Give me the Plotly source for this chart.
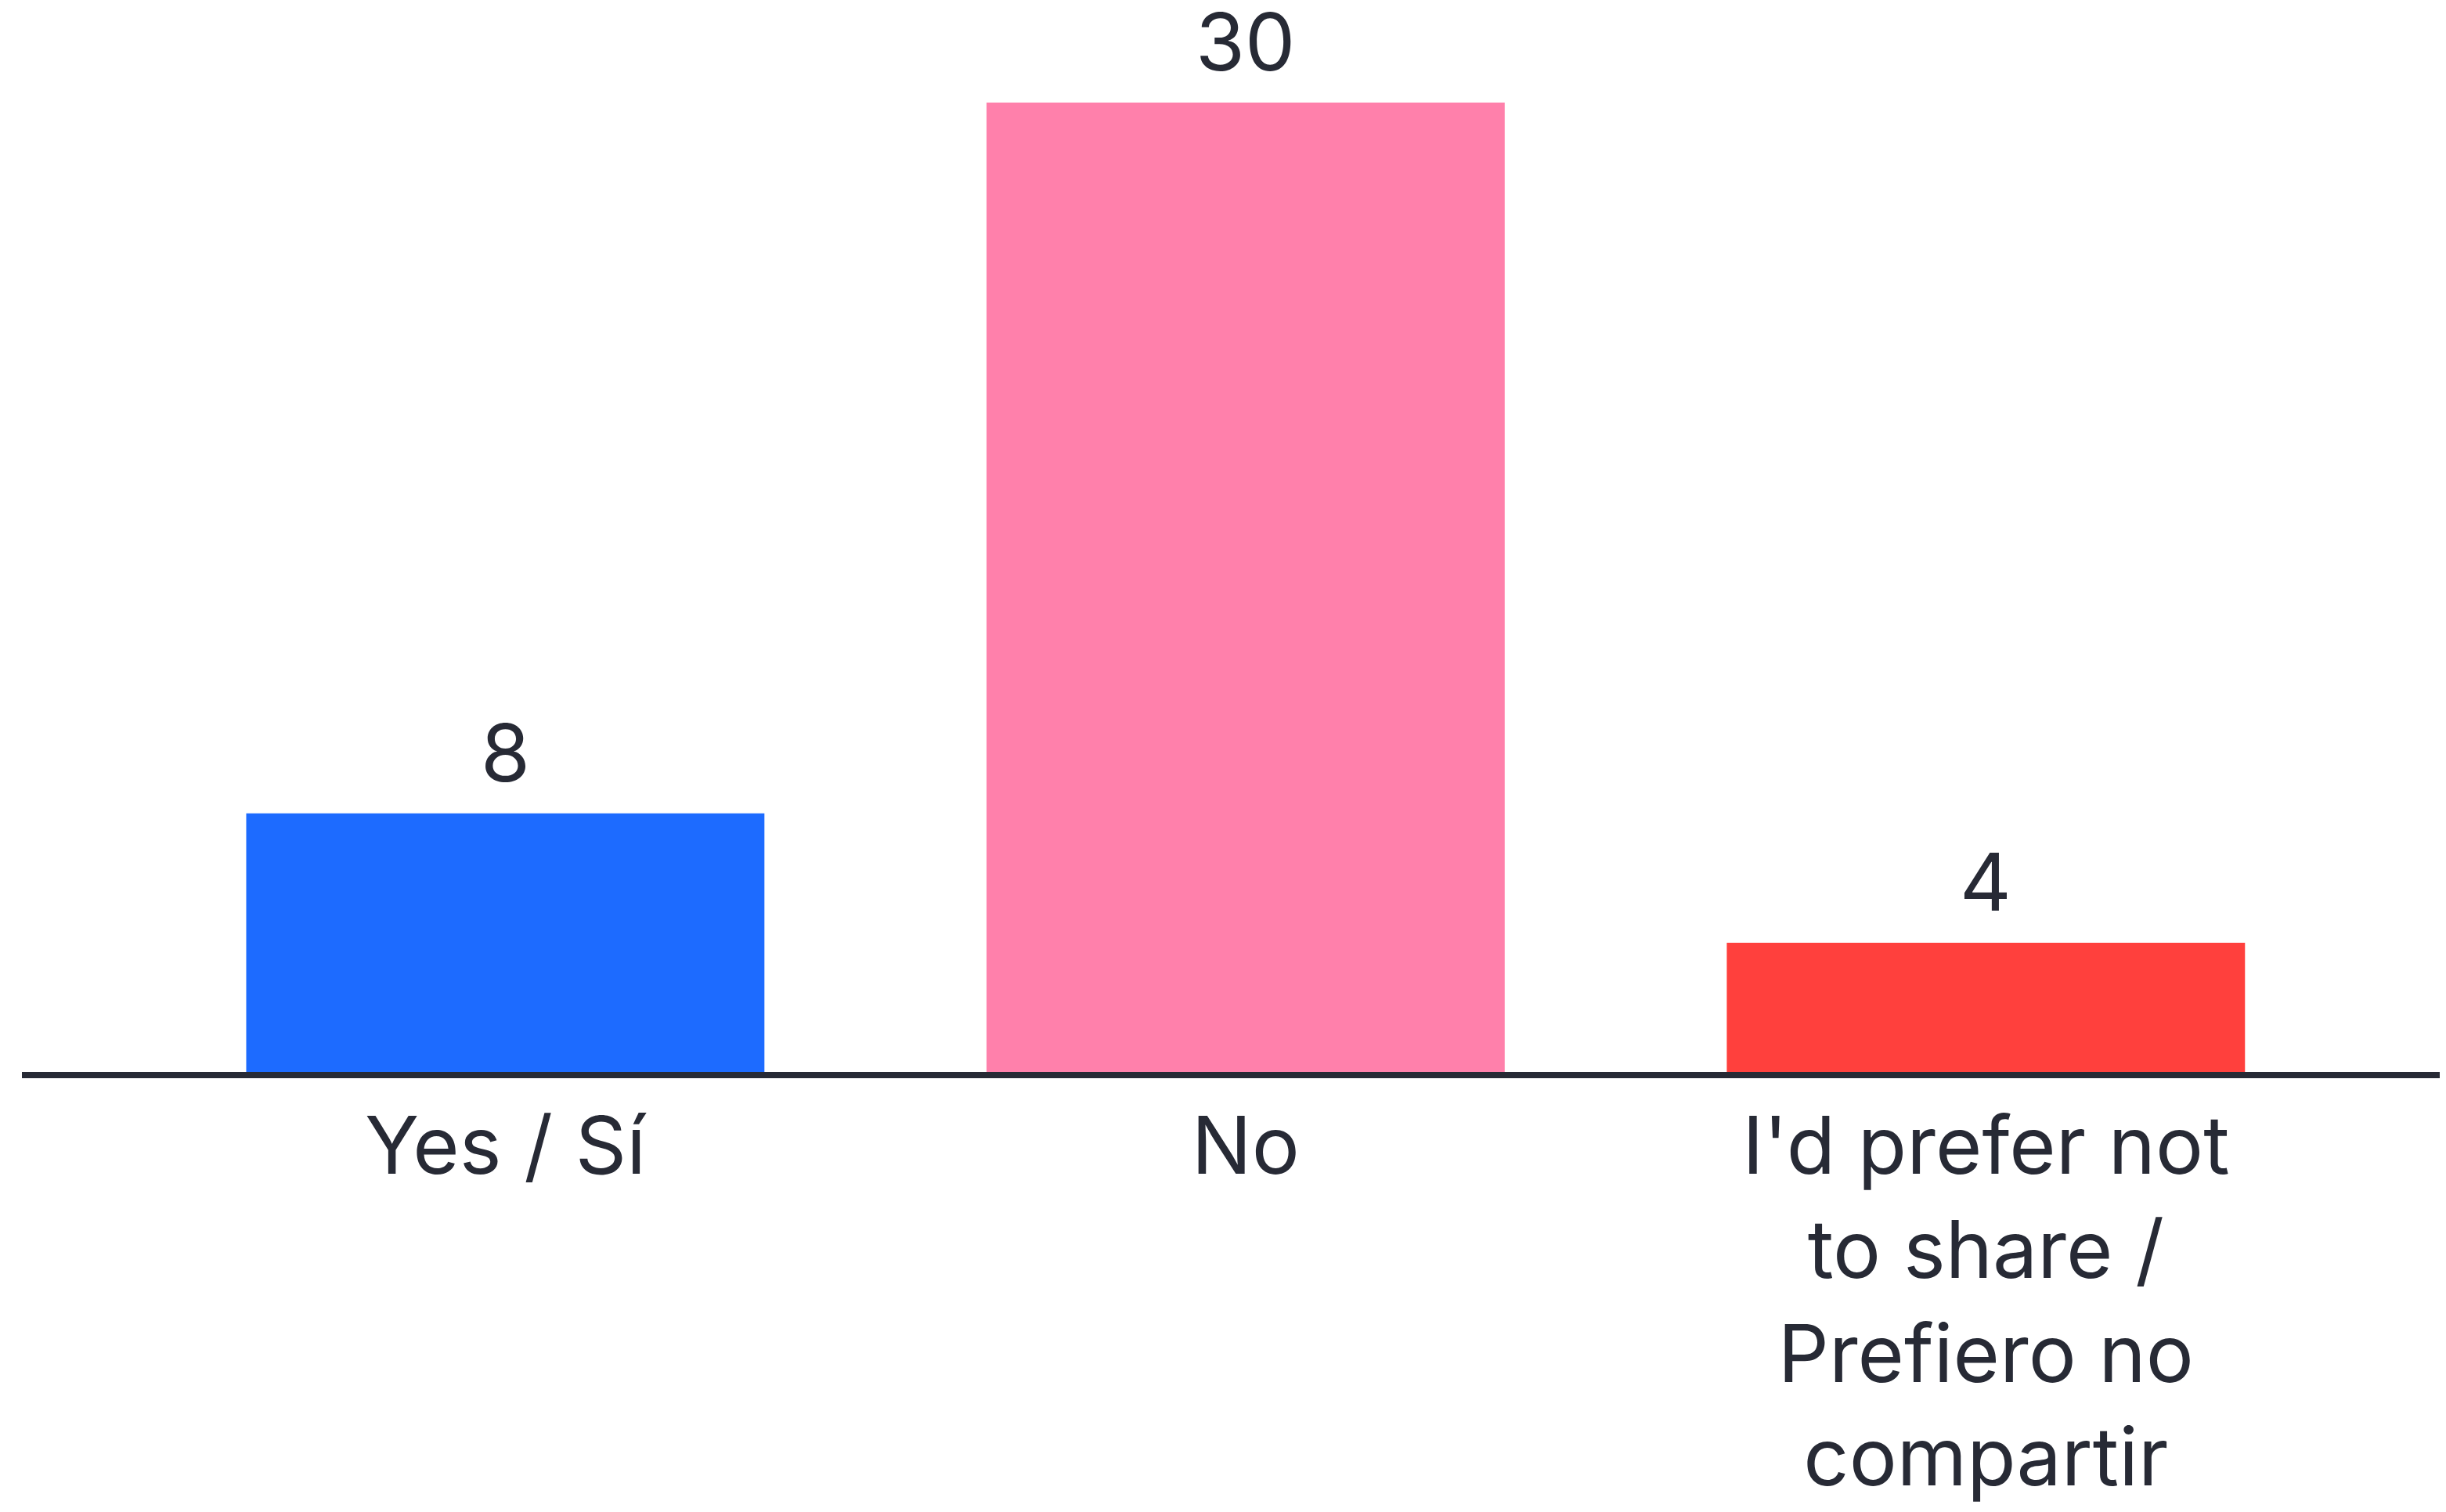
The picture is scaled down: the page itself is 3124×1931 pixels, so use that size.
import plotly.graph_objects as go

categories = ["Yes / Sí", "No", "I'd prefer not<br>to share /<br>Prefiero no<br>compartir"]
values = [8, 30, 4]
colors = ["#1D6BFF", "#FF80AB", "#FF403D"]

TEXT = "#272A35"
FONT = "Inter"
SIZE = 102

fig = go.Figure()
fig.add_trace(go.Bar(
    x=categories,
    y=values,
    marker=dict(color=colors, line=dict(width=0)),
    width=0.70,
    hoverinfo="x+y",
))

for c, v in zip(categories, values):
    fig.add_annotation(
        x=c, y=v, text=str(v), showarrow=False,
        xanchor="center", yanchor="bottom", yshift=14,
        font=dict(family=FONT, size=SIZE, color=TEXT),
    )

fig.update_layout(
    width=3124,
    height=1931,
    margin=dict(l=20, r=0, t=0, b=570),
    paper_bgcolor="white",
    plot_bgcolor="white",
    showlegend=False,
    font=dict(family=FONT, size=SIZE, color=TEXT),
    xaxis=dict(
        range=[-0.653, 2.63],
        showline=True,
        linecolor=TEXT,
        linewidth=8,
        showgrid=False,
        ticks="",
        tickfont=dict(family=FONT, size=SIZE, color=TEXT),
        fixedrange=True,
    ),
    yaxis=dict(
        range=[0, 32.98],
        visible=False,
        showgrid=False,
        zeroline=False,
        fixedrange=True,
    ),
)

fig.write_html("out.html")
